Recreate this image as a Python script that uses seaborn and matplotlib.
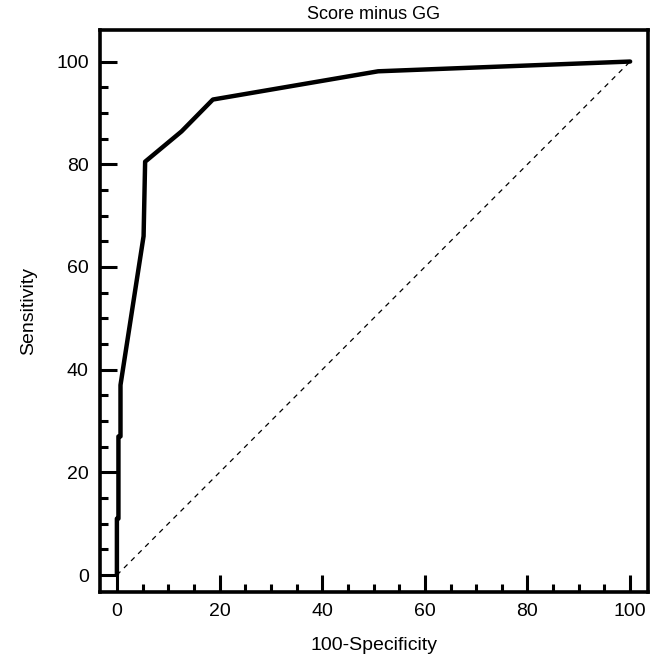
import seaborn as sns
import matplotlib.pyplot as plt
import pandas as pd

# ROC curve points
fpr = [0, 0, 0.3, 0.3, 0.7, 0.7, 5.2, 5.5, 12.6, 18.7, 50.9, 100]
tpr = [0, 11, 11, 27, 27, 37, 66, 80.5, 86.4, 92.6, 98.1, 100]
ref_line = [0, 100]

sns.set_style("white")
plt.rcParams['font.family'] = ['Liberation Sans', 'DejaVu Sans']
plt.rcParams['text.color'] = 'black'
plt.rcParams['axes.labelcolor'] = 'black'
plt.rcParams['xtick.color'] = 'black'
plt.rcParams['ytick.color'] = 'black'

df = pd.DataFrame({'100-Specificity': fpr, 'Sensitivity': tpr})

fig = plt.figure(figsize=(6.62, 6.60), dpi=100)
ax = fig.add_axes([0.151, 0.103, 0.828, 0.852])

sns.lineplot(data=df, x='100-Specificity', y='Sensitivity', sort=False,
             estimator=None, color='black', linewidth=3.2, ax=ax)
sns.lineplot(x=ref_line, y=ref_line, color='black', linewidth=0.9,
             linestyle=(0, (4, 4)), ax=ax)

ax.set_xlim(-3.3, 103.5)
ax.set_ylim(-3.3, 106.2)
ax.set_xticks(range(0, 101, 20))
ax.set_yticks(range(0, 101, 20))
ax.set_xticks(range(0, 101, 5), minor=True)
ax.set_yticks(range(0, 101, 5), minor=True)
ax.tick_params(which='major', direction='in', length=12, width=2.2,
               labelsize=14, pad=8)
ax.tick_params(which='minor', direction='in', length=6, width=2.2)
ax.tick_params(axis='x', which='both', bottom=True)
ax.tick_params(axis='y', which='both', left=True)

for side in ax.spines.values():
    side.set_color('black')
    side.set_linewidth(2.6)

ax.set_xlabel('100-Specificity', fontsize=14, labelpad=12)
ax.set_ylabel('Sensitivity', fontsize=14, labelpad=14)
ax.set_title('Score minus GG', fontsize=13, pad=8)

plt.savefig('out.png', dpi=100)
